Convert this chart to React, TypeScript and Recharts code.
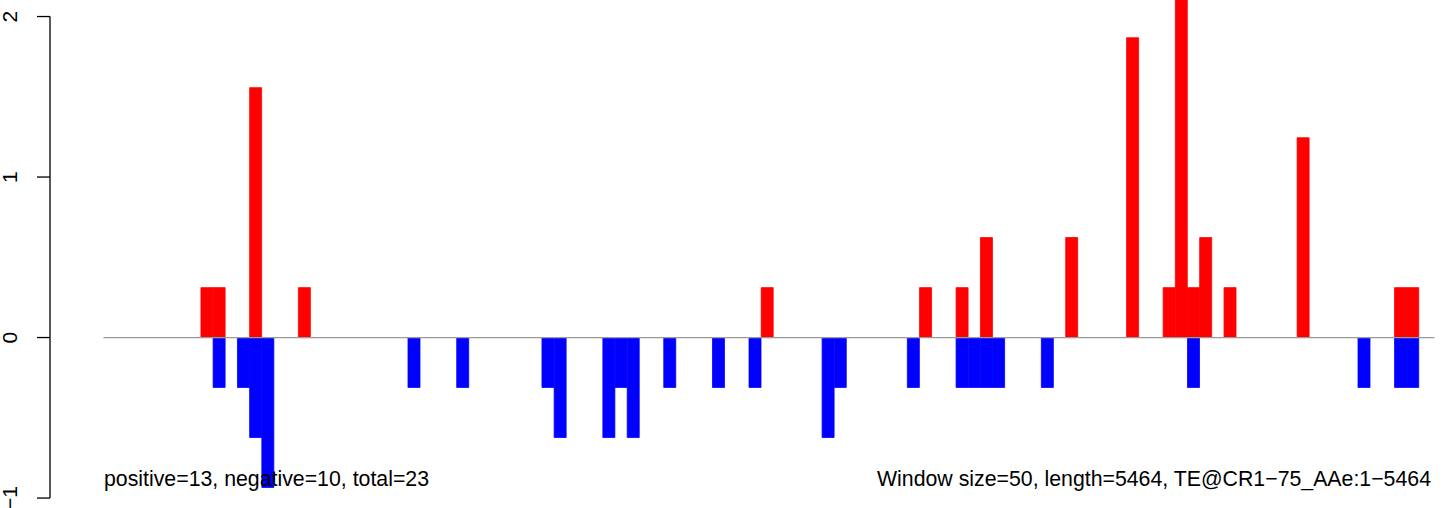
import { Bar, ComposedChart, ReferenceLine, XAxis, YAxis } from "recharts";

const WINDOW_SIZE = 50;
const SEQ_LENGTH = 5464;

// window index -> score (one unit ~ 0.311)
const positiveWindows = [8, 9, 12, 16, 54, 67, 70, 72, 79, 84, 87, 88, 89, 90, 92, 98, 106, 107];
const positiveValues = [0.311, 0.311, 1.557, 0.311, 0.311, 0.311, 0.311, 0.623, 0.623, 1.868, 0.311, 2.18, 0.311, 0.623, 0.311, 1.245, 0.311, 0.311];

const negativeWindows = [9, 11, 12, 13, 25, 29, 36, 37, 41, 42, 43, 46, 50, 53, 59, 60, 66, 70, 71, 72, 73, 77, 89, 103, 106, 107];
const negativeValues = [-0.311, -0.311, -0.623, -0.934, -0.311, -0.311, -0.311, -0.623, -0.623, -0.311, -0.623, -0.311, -0.311, -0.311, -0.623, -0.311, -0.311, -0.311, -0.311, -0.311, -0.311, -0.311, -0.311, -0.311, -0.311, -0.311];

const yTicks = [-1, 0, 1, 2];

const leftNote = "positive=13, negative=10, total=23";
const rightNote = "Window size=50, length=5464, TE@CR1\u221275_AAe:1\u22125464";

const FONT = "'Liberation Sans', Arial, Helvetica, sans-serif";

const allWindows = Array.from(new Set([...positiveWindows, ...negativeWindows])).sort((a, b) => a - b);
const chartData = allWindows.map((w) => {
  const pi = positiveWindows.indexOf(w);
  const ni = negativeWindows.indexOf(w);
  return {
    x: w + 0.5,
    pos: pi >= 0 ? positiveValues[pi] : 0,
    neg: ni >= 0 ? negativeValues[ni] : 0,
  };
});

const nWindows = SEQ_LENGTH / WINDOW_SIZE;

const RotatedTick = (props: any) => {
  const { x, y, payload } = props;
  const bx = x - 18;
  const label = payload.value < 0 ? "\u2212" + Math.abs(payload.value) : String(payload.value);
  return (
    <text
      x={bx}
      y={y}
      transform={`rotate(-90, ${bx}, ${y})`}
      textAnchor="middle"
      fontSize={21}
      fontFamily={FONT}
      fill="#000"
    >
      {label}
    </text>
  );
};

export default function App() {
  return (
    <div style={{ position: "absolute", left: 0, top: 0, width: 1444, height: 508, background: "#fff" }}>
      <ComposedChart
        width={1444}
        height={508}
        data={chartData}
        stackOffset="sign"
        barCategoryGap={0}
        barGap={0}
        margin={{ top: 0, right: 0, bottom: 0, left: 0 }}
      >
        <XAxis type="number" dataKey="x" domain={[-4.392, 110.06]} allowDataOverflow hide />
        <YAxis
          type="number"
          domain={[-1.062, 2.103]}
          allowDataOverflow
          ticks={yTicks}
          width={50}
          axisLine={false}
          tickLine={{ stroke: "#000", strokeWidth: 1.3 }}
          tickSize={13}
          tick={<RotatedTick />}
          interval={0}
        />
        <Bar dataKey="pos" stackId="s" fill="#FF0000" stroke="#FF0000" strokeWidth={0.8} isAnimationActive={false} />
        <Bar dataKey="neg" stackId="s" fill="#0000FF" stroke="#0000FF" strokeWidth={0.8} isAnimationActive={false} />
        <ReferenceLine
          segment={[{ x: 0, y: 0 }, { x: nWindows, y: 0 }]}
          stroke="#9a9a9a"
          strokeWidth={1.3}
        />
        <ReferenceLine
          segment={[{ x: -4.392, y: -1 }, { x: -4.392, y: 2 }]}
          stroke="#000"
          strokeWidth={1.3}
          ifOverflow="visible"
        />
      </ComposedChart>
      <svg width={1444} height={508} style={{ position: "absolute", left: 0, top: 0, pointerEvents: "none" }}>
        <text x={104} y={486} fontSize={21.3} fontFamily={FONT} fill="#000">
          {leftNote}
        </text>
        <text x={1431} y={486} fontSize={21.3} fontFamily={FONT} fill="#000" textAnchor="end">
          {rightNote}
        </text>
      </svg>
    </div>
  );
}
